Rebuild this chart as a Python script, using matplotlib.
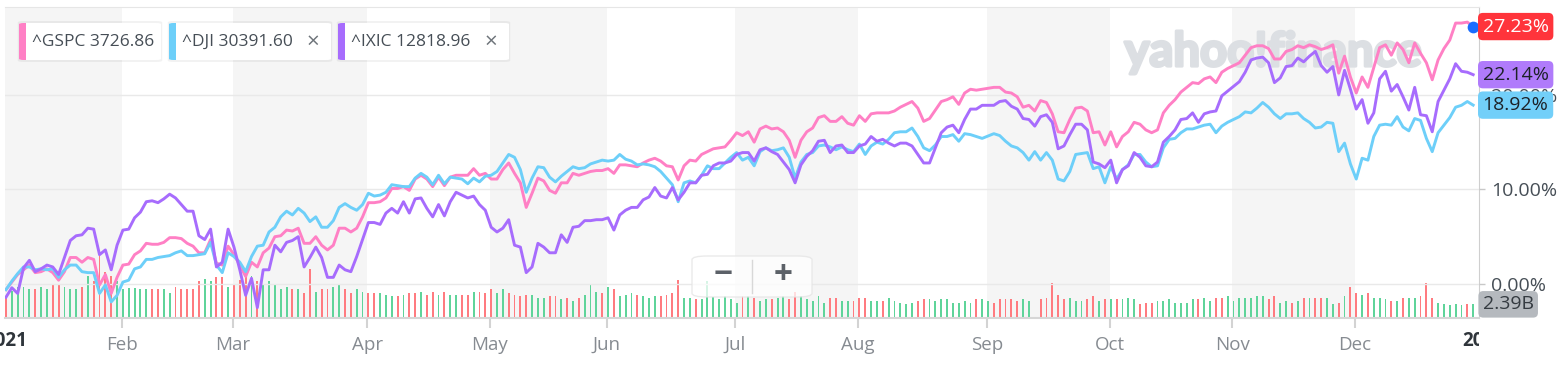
import matplotlib
matplotlib.use("Agg")
import matplotlib.pyplot as plt
import matplotlib.transforms as mtransforms
import matplotlib.patheffects as pe
from matplotlib.patches import FancyBboxPatch, Rectangle

# trading-day index of each reading (0 = first session of 2021)
days = list(range(0, 168)) + list(range(169, 210)) + list(range(211, 252))

# percent change since the start of the year
ixic = [-1.4, -0.4, -1.0, 1.7, 2.5, 1.3, 1.6, 2.0, 1.8, 1.0,
        2.8, 4.6, 5.1, 5.2, 5.9, 5.8, 3.1, 3.6, 1.5, 4.1,
        5.7, 5.8, 7.0, 7.6, 8.7, 8.8, 8.6, 9.0, 9.5, 9.1,
        8.4, 7.7, 7.7, 5.1, 4.7, 5.8, 1.8, 2.3, 5.8, 3.9,
        1.5, -1.2, 0.6, -2.5, 1.5, 1.5, 4.1, 3.4, 4.4, 4.6,
        5.0, 1.8, 2.8, 3.9, 2.8, 0.7, 0.7, 2.0, 1.5, 1.3,
        2.9, 4.7, 6.5, 6.5, 6.3, 7.5, 8.0, 7.5, 8.7, 7.5,
        9.0, 9.1, 8.0, 7.1, 8.4, 7.2, 8.7, 9.7, 9.4, 9.1,
        9.3, 8.4, 7.8, 6.0, 5.5, 5.9, 6.8, 4.1, 3.9, 1.2,
        1.8, 4.3, 3.9, 3.3, 3.3, 5.2, 4.4, 6.0, 6.1, 6.7,
        6.7, 6.8, 6.8, 7.0, 5.7, 7.3, 7.8, 8.1, 8.1, 8.9,
        9.2, 10.2, 9.3, 9.1, 10.2, 8.9, 9.7, 10.7, 10.7, 11.5,
        11.6, 12.5, 12.8, 12.8, 13.0, 13.7, 13.9, 13.9, 13.0, 14.2,
        14.4, 14.0, 13.7, 12.9, 12.1, 10.7, 12.6, 13.5, 14.1, 15.1,
        15.2, 13.9, 14.6, 14.7, 13.9, 13.9, 14.6, 14.8, 15.6, 15.1,
        15.3, 14.9, 14.6, 14.9, 14.9, 14.6, 13.7, 12.8, 12.8, 14.4,
        16.0, 16.6, 16.8, 16.0, 17.4, 18.5, 18.5, 18.9,
        18.9, 19.3, 19.4, 18.8, 18.5, 17.5, 17.4, 16.7, 17.7, 17.9,
        17.1, 14.3, 14.6, 15.8, 16.9, 16.9, 16.3, 12.9, 12.7, 12.3,
        13.1, 10.7, 12.1, 12.5, 13.9, 13.4, 12.5, 12.4, 12.9, 15.0,
        15.6, 16.3, 17.4, 17.5, 18.1, 17.1, 18.0, 18.2, 18.3, 19.9, 20.4,
        21.4, 22.4, 23.7, 23.9, 24.0, 23.4, 21.3, 21.8, 23.0, 23.1,
        23.9, 23.5, 24.1, 24.6, 23.1, 22.4, 23.0, 20.0, 22.6, 20.6,
        18.5, 19.5, 17.0, 18.1, 21.7, 22.5, 20.4, 21.1, 19.8, 18.4,
        20.8, 17.9, 17.8, 16.1, 19.3, 20.5, 21.7, 23.3, 22.5, 22.4, 22.14]

gspc = [-0.6, 0.2, 1.0, 1.5, 2.0, 1.2, 1.3, 1.6, 1.2, 0.4,
        1.3, 2.8, 2.8, 2.3, 2.8, 2.6, -0.1, 1.0, -1.0, 0.7,
        2.0, 2.1, 3.1, 3.5, 4.3, 4.2, 4.2, 4.4, 4.9, 4.9,
        4.8, 4.3, 4.0, 3.3, 3.3, 4.7, 2.2, 2.0, 4.0, 3.1,
        2.0, 0.8, 2.3, 1.8, 3.3, 3.8, 5.0, 5.1, 5.7, 5.6,
        5.9, 4.3, 4.3, 5.0, 4.1, 3.6, 4.1, 5.9, 5.9, 5.5,
        5.9, 7.1, 8.6, 8.6, 8.7, 9.1, 10.1, 10.1, 10.3, 9.9,
        11.1, 11.5, 11.1, 10.3, 11.3, 10.4, 11.3, 11.5, 11.5, 11.5,
        12.2, 11.5, 11.7, 11.1, 11.1, 12.1, 12.8, 11.7, 10.7, 8.1,
        9.6, 11.2, 10.9, 9.9, 9.6, 10.7, 10.7, 11.7, 11.5, 11.7,
        11.9, 12.0, 12.0, 12.2, 11.7, 12.6, 12.6, 12.5, 12.4, 12.8,
        13.1, 13.3, 13.0, 12.5, 12.4, 11.0, 12.5, 13.1, 13.0, 13.7,
        14.0, 14.3, 14.4, 14.5, 15.2, 16.0, 15.7, 16.1, 15.0, 16.4,
        16.7, 16.4, 16.5, 16.1, 15.2, 13.4, 15.2, 16.1, 16.5, 17.6,
        17.8, 17.2, 17.2, 17.7, 17.0, 16.8, 17.8, 17.2, 18.0, 18.1,
        18.1, 18.1, 18.3, 18.7, 19.0, 19.3, 18.6, 17.2, 17.5, 18.4,
        19.3, 19.5, 19.8, 19.0, 20.2, 20.6, 20.5, 20.6,
        20.8, 20.8, 20.3, 20.2, 19.8, 18.7, 18.9, 18.3, 19.4, 19.2,
        18.0, 16.1, 16.0, 17.4, 18.6, 18.7, 18.3, 16.0, 16.1, 14.7,
        16.1, 14.5, 15.6, 16.1, 17.1, 16.9, 16.3, 16.0, 16.3, 18.1,
        18.9, 19.5, 20.3, 20.8, 21.3, 21.2, 21.7, 21.9, 21.3, 22.4, 22.8,
        23.4, 24.2, 25.0, 25.2, 25.2, 24.9, 23.8, 23.8, 24.6, 24.8,
        25.2, 25.0, 25.3, 25.1, 24.8, 25.0, 25.3, 22.3, 24.1, 21.9,
        20.2, 21.9, 20.8, 22.9, 25.0, 25.3, 24.2, 25.5, 24.8, 23.4,
        25.5, 24.4, 23.4, 21.6, 23.7, 24.9, 25.8, 27.6, 27.6, 27.7, 27.23]

dji = [-0.6, 0.3, 1.1, 1.8, 1.8, 1.5, 1.6, 1.5, 1.6, 0.7,
       1.5, 2.0, 2.0, 1.3, 1.2, 1.2, -1.0, -0.1, -1.9, -1.2,
       0.2, 0.4, 1.6, 1.8, 2.6, 2.6, 2.8, 2.9, 3.0, 3.3,
       3.5, 3.0, 3.0, 3.1, 3.2, 4.4, 2.0, 1.2, 3.3, 2.9,
       2.3, 1.3, 2.9, 4.0, 4.1, 5.5, 6.0, 7.1, 7.7, 7.3,
       8.0, 7.5, 6.6, 7.1, 6.0, 6.0, 6.7, 8.1, 8.5, 8.1,
       7.8, 8.4, 9.6, 9.3, 9.4, 9.7, 10.5, 10.4, 10.3, 10.3,
       11.2, 11.7, 11.3, 10.5, 11.5, 10.6, 11.3, 11.2, 11.1, 10.6,
       11.2, 10.8, 11.4, 11.5, 11.9, 12.8, 13.7, 13.4, 12.1, 9.7,
       11.2, 12.4, 12.3, 11.3, 10.8, 11.4, 11.9, 12.4, 12.2, 12.3,
       12.7, 12.9, 13.1, 13.0, 13.1, 13.7, 13.2, 13.0, 12.6, 12.7,
       12.6, 12.4, 11.9, 11.2, 10.5, 8.7, 10.7, 10.9, 10.7, 11.5,
       12.5, 12.2, 12.2, 12.8, 13.4, 13.9, 13.1, 13.4, 12.5, 14.0,
       14.4, 14.1, 14.2, 14.4, 13.4, 11.2, 12.9, 13.7, 13.9, 14.6,
       14.7, 14.5, 14.2, 14.5, 14.2, 14.0, 14.8, 13.7, 14.6, 15.0,
       14.8, 15.3, 16.0, 16.1, 16.1, 16.5, 15.6, 14.4, 14.1, 14.7,
       15.6, 15.6, 15.8, 15.1, 15.9, 15.8, 15.6, 15.4,
       15.9, 15.7, 15.1, 14.6, 14.4, 13.9, 13.1, 14.0, 13.1, 13.9,
       13.1, 11.1, 10.9, 11.9, 13.7, 13.8, 13.9, 12.2, 12.4, 10.7,
       12.4, 11.1, 12.1, 12.6, 13.7, 13.7, 12.9, 12.4, 12.5, 14.4,
       15.3, 15.4, 16.0, 16.4, 16.4, 16.6, 16.8, 16.9, 16.0, 16.7, 17.1,
       17.7, 18.2, 18.1, 18.6, 19.2, 18.7, 18.0, 17.5, 18.0, 18.0,
       18.1, 17.5, 17.1, 16.5, 16.6, 17.1, 17.0, 14.0, 14.9, 12.7,
       11.1, 13.3, 13.1, 15.6, 16.8, 16.9, 16.8, 17.7, 16.6, 16.2,
       17.5, 17.3, 15.4, 14.0, 16.0, 16.8, 17.6, 18.7, 18.9, 19.3, 18.92]

# S&P 500 volume, billions of shares; g = up session, r = down session
vol_days = list(range(0, 176)) + list(range(177, 252))
volume = [3.9, 4.8, 5.4, 5.4, 5.1, 5.0, 5.4, 5.0, 5.7, 6.0,
          5.4, 5.0, 5.0, 5.4, 7.4, 6.5, 11.5, 8.0, 7.4, 6.5,
          5.1, 5.2, 5.2, 5.1, 5.1, 5.0, 5.1, 5.0, 4.3, 5.4,
          5.1, 5.1, 5.1, 6.4, 6.9, 6.4, 7.2, 7.2, 5.4, 6.0,
          6.7, 7.8, 7.4, 6.4, 6.0, 6.4, 5.7, 5.0, 5.4, 5.0,
          5.0, 4.3, 8.6, 4.6, 5.1, 5.1, 5.4, 6.0, 5.1, 4.3,
          5.0, 4.6, 4.3, 4.3, 4.3, 4.0, 3.8, 3.9, 4.0, 4.3,
          4.3, 4.6, 4.0, 4.6, 4.0, 4.6, 4.0, 4.0, 4.0, 4.0,
          4.6, 4.6, 4.3, 5.0, 4.3, 5.0, 4.3, 4.0,
          3.8, 4.0, 4.0, 3.5, 3.5, 3.8, 3.8, 3.3, 3.5, 3.0,
          3.5, 4.0, 5.7, 4.6, 4.4, 5.4, 5.0, 3.8, 4.0, 4.4,
          4.0, 3.8, 3.5, 3.8, 3.8, 4.0, 4.4, 6.7, 3.5, 3.5,
          3.3, 3.3, 6.5, 3.6, 3.3, 3.9, 3.3, 2.7, 3.9, 3.8,
          3.5, 3.0, 3.3, 3.3, 3.5, 3.8, 3.3, 4.6, 3.8, 3.3,
          3.0, 3.8, 2.7, 3.5, 3.5, 3.0, 3.0, 3.0, 3.5, 3.5,
          3.0, 3.0, 3.0, 3.5, 3.0, 2.7, 2.5, 2.7, 3.0, 3.3,
          3.3, 3.0, 3.3, 3.3, 2.7, 2.7, 3.0, 2.7, 3.3, 3.3,
          3.0, 2.7, 3.3, 3.3, 3.3, 2.9, 3.3, 2.9,
          3.3, 3.5, 6.1, 4.0, 3.3, 3.5, 3.0, 3.0, 3.3, 3.8,
          3.0, 3.3, 3.3, 3.3, 3.3, 3.5, 3.3, 2.5, 2.7, 2.7,
          3.0, 2.9, 3.3, 2.7, 2.7, 2.7, 3.3, 3.3, 3.5, 3.0,
          3.5, 3.5, 3.8, 3.0, 3.5, 3.5, 3.5, 3.8, 3.8, 3.3,
          3.8, 2.7, 3.0, 2.7, 3.0, 3.5, 3.5, 3.5, 3.5, 3.5,
          2.5, 2.7, 3.8, 5.4, 4.4, 4.0, 4.4, 3.5, 3.5, 3.3,
          3.0, 3.0, 3.5, 3.5, 3.5, 3.8, 6.1, 3.5, 2.7, 2.5,
          2.3, 2.5, 2.3, 2.5, 2.39]
vol_dir = ("rggggrggrr" "gggrgrrrrg" "gggggrrggr" "rrrrggrrgr" "rrgrgggggr"
           "grrgrrggrr" "ggrrgggrgr" "rgrrgrggrr" "grrrggrr"
           "rrgggrrgrg" "rgggrgrggg" "rgggrrrrgg" "rggggggg" "rg" "rggrggrrgg"
           "gggrrggrrr" "ggrgggggrr" "ggggggggrg" "grrrrrgg"
           "rrrrrgggrr" "grgrgggrrr" "gggggggrgg" "rrgggggggr" "rggrgrgrrg"
           "grgrrgrggg" "rgrggrrrgg" "gggrgr")

month_starts = [19, 38, 61, 82, 102, 124, 145, 167, 188, 209, 230]
month_names = ['Feb', 'Mar', 'Apr', 'May', 'Jun', 'Jul', 'Aug', 'Sep', 'Oct', 'Nov', 'Dec']
year_starts = [-0.8, 252]
year_names = ['2021', '2022']

symbols = ['^GSPC', '^DJI', '^IXIC']
quotes = ['3726.86', '30391.60', '12818.96']
last_pct = [27.23, 18.92, 22.14]
last_volume = 2.39

PINK, CYAN, PURPLE = '#ff80c5', '#6dcff9', '#a76cfd'
TEXT = '#464e56'
W, H = 1561, 370

plt.rcParams['font.family'] = ['Open Sans', 'DejaVu Sans']

fig = plt.figure(figsize=(W / 100, H / 100), dpi=100)
ax = fig.add_axes([5 / W, 52 / H, 1474 / W, 311 / H])
axp = ax.twinx()

xlo, xhi = -0.17, 252.0
shift = 0.8  # month boundary sits a little after the first session
bounds = [xlo] + [m + shift for m in month_starts] + [xhi]
for i in range(0, len(bounds) - 1, 2):
    ax.axvspan(bounds[i], bounds[i + 1], color='#f5f5f5', lw=0, zorder=0)

# watermark
ax.text(0.7595, 0.855, 'yahoo!finance', transform=ax.transAxes,
        fontsize=34, fontweight='bold', family=['Lato', 'DejaVu Sans'],
        color='#dcdfe3', ha='left', va='center', zorder=0.5,
        path_effects=[pe.withStroke(linewidth=2.2, foreground='#dcdfe3')])

# volume
bar_cols = ['#5fd49a' if c == 'g' else '#ff7b80' for c in vol_dir]
ax.bar(vol_days, volume, width=0.32, color=bar_cols, lw=0, zorder=2)
ax.set_ylim(0, 54.4)
ax.set_xlim(xlo, xhi)
ax.set_yticks([])
ax.set_xticks([m + shift for m in month_starts])
ax.set_xticklabels(month_names, fontsize=13.5, color='#868b91')
ax.tick_params(axis='x', length=7, width=1.5, color='#d3d3d3', pad=6)
ax.spines['left'].set_visible(False)
ax.spines['bottom'].set_color('#d6d6d6')
ax.spines['bottom'].set_linewidth(1.5)
ax.spines['top'].set_color('#e6e6e6')
ax.spines['right'].set_color('#cfcfcf')

clip = Rectangle((0, 0), 1479 / W, 1, transform=fig.transFigure)
year_tr = mtransforms.blended_transform_factory(ax.transData, ax.transAxes)
for pos, name in zip(year_starts, year_names):
    t = ax.text(pos + shift, -0.042, name, transform=year_tr,
                ha='center', va='top', fontsize=13.5, fontweight='bold', color='#2f353b')
    t.set_clip_on(True)
    t.set_clip_path(clip)

# price lines
axp.set_xlim(xlo, xhi)
axp.set_ylim(-3.6, 29.3)
axp.set_yticks([0, 10, 20])
axp.set_yticklabels(['0.00%', '10.00%', '20.00%'], fontsize=14, color=TEXT)
axp.tick_params(axis='y', length=4, width=1, color='#c8c8c8', pad=5)
axp.grid(axis='y', color='#e9e9e9', lw=1)
axp.set_axisbelow(True)
for s in axp.spines.values():
    s.set_visible(False)

axp.plot(days, gspc, color=PINK, lw=2.1, solid_joinstyle='round', zorder=3)
axp.plot(days, dji, color=CYAN, lw=2.1, solid_joinstyle='round', zorder=3)
axp.plot(days, ixic, color=PURPLE, lw=2.1, solid_joinstyle='round', zorder=3)
axp.scatter([days[-1]], [gspc[-1]], s=55, color='#1a6dff', zorder=5, clip_on=False)

edge = mtransforms.blended_transform_factory(axp.transAxes, axp.transData)
boxes = [('#ff343b', 'white'), ('#72cff9', '#1d2228'), ('#b07bfb', '#1d2228')]
for val, (fc, tc) in zip(last_pct, boxes):
    axp.text(1.0025, val, f'{val:.2f}%', transform=edge, ha='left', va='center',
             fontsize=14, color=tc, zorder=6,
             bbox=dict(boxstyle='round,pad=0.24,rounding_size=0.25', fc=fc, ec='none'))
vol_edge = mtransforms.blended_transform_factory(axp.transAxes, ax.transData)
axp.text(1.0025, last_volume, f'{last_volume:.2f}B', transform=vol_edge, ha='left', va='center',
         fontsize=14, color='#353b41', zorder=6,
         bbox=dict(boxstyle='round,pad=0.22,rounding_size=0.25', fc='#b5b9be', ec='none'))

# zoom buttons
fig.patches.append(FancyBboxPatch((692 / W, 1 - 297 / H), 120 / W, 41 / H,
                                  boxstyle='round,pad=0,rounding_size=0.01', transform=fig.transFigure,
                                  fc='white', ec='#e4e4e4', alpha=0.75, lw=1))
fig.lines.append(plt.Line2D([752 / W, 752 / W], [1 - 293 / H, 1 - 260 / H], transform=fig.transFigure,
                            color='#d8d8d8', lw=1))
fig.text(723 / W, 1 - 276 / H, '\u2212', fontsize=24, fontweight='bold', color='#5c6168', ha='center', va='center')
fig.text(783 / W, 1 - 276 / H, '+', fontsize=24, fontweight='bold', color='#5c6168', ha='center', va='center')

# legend chips
chips = [(19, 161, PINK, False), (169, 331, CYAN, True), (338, 509, PURPLE, True)]
for (x0, x1, col, close), sym, q in zip(chips, symbols, quotes):
    y0, y1 = 23, 60
    fig.patches.append(FancyBboxPatch((x0 / W - 0.0008, 1 - (y1 + 2) / H), (x1 - x0) / W + 0.0016, (y1 - y0 + 4) / H,
                                      boxstyle='round,pad=0,rounding_size=0.004', transform=fig.transFigure,
                                      fc='#000000', ec='none', alpha=0.05))
    fig.patches.append(FancyBboxPatch((x0 / W, 1 - y1 / H), (x1 - x0) / W, (y1 - y0) / H,
                                      boxstyle='round,pad=0,rounding_size=0.003', transform=fig.transFigure,
                                      fc='white', ec='none'))
    fig.patches.append(FancyBboxPatch((x0 / W, 1 - y1 / H), 12 / W, (y1 - y0) / H,
                                      boxstyle='round,pad=0,rounding_size=0.003', transform=fig.transFigure,
                                      fc=col, ec='none'))
    fig.patches.append(Rectangle(((x0 + 7) / W, 1 - y1 / H), 7 / W, (y1 - y0) / H,
                                 transform=fig.transFigure, fc='white', ec='none'))
    fig.text((x0 + 13) / W, 1 - 42 / H, f'{sym} {q}', fontsize=12.5, color=TEXT, ha='left', va='center')
    if close:
        fig.text((x1 - 18) / W, 1 - 42 / H, '\u00d7', fontsize=16, color='#6e747a', ha='center', va='center')

fig.savefig('out.png', dpi=100)
